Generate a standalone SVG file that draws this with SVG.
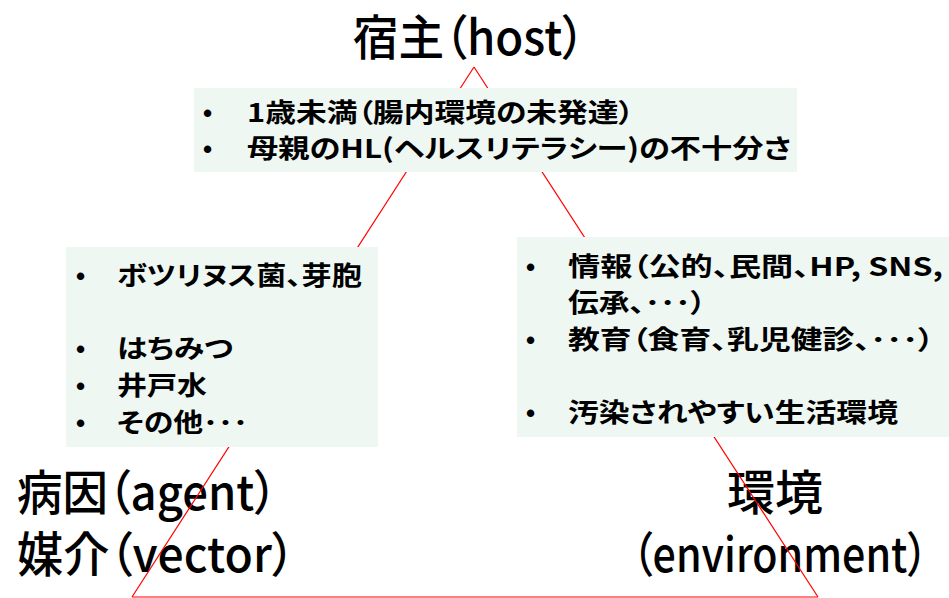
<svg xmlns="http://www.w3.org/2000/svg" width="949" height="598" viewBox="0 0 949 598">
  <style>
    text { font-family: "Noto Sans CJK JP", "Noto Sans", sans-serif; fill: #000; font-feature-settings: "palt"; }
    .big { font-size: 48px; font-weight: 500; }
    .item { font-size: 26px; font-weight: bold; }
    .bul { font-family: "Liberation Sans", sans-serif; font-size: 26px; font-weight: bold; }
    .box { fill: #EEF7F2; stroke: none; }
    .edge { stroke: #FF0000; stroke-width: 1.2; fill: none; }
  </style>
  <rect width="949" height="598" fill="#FFFFFF"/>

  <g id="label-host">
    <text class="big" x="353" y="55" textLength="232" lengthAdjust="spacingAndGlyphs">宿主（host）</text>
  </g>
  <g id="label-agent">
    <text class="big" x="17" y="510" textLength="260" lengthAdjust="spacingAndGlyphs">病因（agent）</text>
    <text class="big" x="17" y="572" textLength="278" lengthAdjust="spacingAndGlyphs">媒介（vector）</text>
  </g>
  <g id="label-environment">
    <text class="big" x="727" y="510" textLength="96" lengthAdjust="spacingAndGlyphs">環境</text>
    <text class="big" x="632" y="572" textLength="296" lengthAdjust="spacingAndGlyphs">（environment）</text>
  </g>

  <g id="connectors">
    <line class="edge" x1="474" y1="67" x2="132" y2="597"/>
    <line class="edge" x1="474" y1="67" x2="818" y2="597"/>
    <line class="edge" x1="132" y1="597" x2="818" y2="597"/>
  </g>

  <g id="box-host">
    <rect class="box" x="194" y="88" width="603" height="84"/>
    <text class="bul" x="203" y="122">•</text>
    <text class="item" x="247" y="122" textLength="387" lengthAdjust="spacingAndGlyphs">1歳未満（腸内環境の未発達）</text>
    <text class="bul" x="203" y="158">•</text>
    <text class="item" x="247" y="158" textLength="544" lengthAdjust="spacingAndGlyphs">母親のHL(ヘルスリテラシー)の不十分さ</text>
  </g>

  <g id="box-agent">
    <rect class="box" x="66" y="247" width="312" height="200"/>
    <text class="bul" x="76" y="285">•</text>
    <text class="item" x="117" y="285" textLength="245" lengthAdjust="spacingAndGlyphs">ボツリヌス菌、芽胞</text>
    <text class="bul" x="76" y="358">•</text>
    <text class="item" x="117" y="358" textLength="116" lengthAdjust="spacingAndGlyphs">はちみつ</text>
    <text class="bul" x="76" y="395">•</text>
    <text class="item" x="117" y="395" textLength="90" lengthAdjust="spacingAndGlyphs">井戸水</text>
    <text class="bul" x="76" y="432">•</text>
    <text class="item" x="117" y="432" textLength="131" lengthAdjust="spacingAndGlyphs">その他･･･</text>
  </g>

  <g id="box-environment">
    <rect class="box" x="517" y="237" width="432" height="200"/>
    <text class="bul" x="526" y="276">•</text>
    <text class="item" x="568" y="276" textLength="375" lengthAdjust="spacingAndGlyphs">情報（公的、民間、HP, SNS,</text>
    <text class="item" x="568" y="312" textLength="138" lengthAdjust="spacingAndGlyphs">伝承、･･･）</text>
    <text class="bul" x="526" y="349">•</text>
    <text class="item" x="568" y="349" textLength="366" lengthAdjust="spacingAndGlyphs">教育（食育、乳児健診、･･･）</text>
    <text class="bul" x="526" y="422">•</text>
    <text class="item" x="568" y="422" textLength="330" lengthAdjust="spacingAndGlyphs">汚染されやすい生活環境</text>
  </g>
</svg>
